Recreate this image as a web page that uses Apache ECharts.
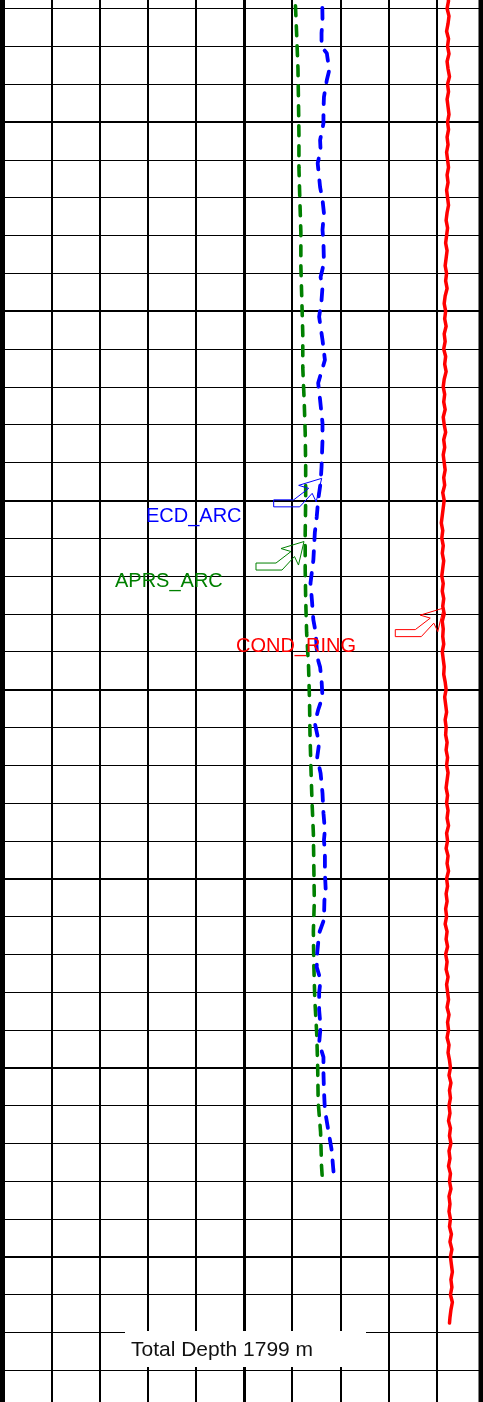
<!DOCTYPE html>
<html><head><meta charset="utf-8">
<script src="https://cdn.jsdelivr.net/npm/echarts@6/dist/echarts.min.js"></script>
<style>html,body{margin:0;padding:0;background:#fff;overflow:hidden;width:483px;height:1402px;position:relative}#c{position:absolute;left:0;top:-68px;width:486px;height:1516px}</style>
</head><body><div id="c"></div>
<script>
// [depth m, track value (0-10 track divisions)]
const aprsArc = [[1414,6.05],[1426,6.09],[1436,6.12],[1444,6.13],[1453,6.14],[1462,6.14],[1471,6.16],[1479,6.18],[1488,6.18],[1497,6.20],[1506,6.22],[1515,6.22],[1524,6.25],[1532,6.27],[1541,6.28],[1550,6.28],[1559,6.27],[1568,6.27],[1576,6.28],[1585,6.30],[1594,6.34],[1603,6.36],[1612,6.37],[1621,6.39],[1629,6.41],[1638,6.44],[1647,6.45],[1656,6.46],[1664,6.44],[1673,6.45],[1682,6.47],[1691,6.51],[1700,6.53],[1709,6.54],[1717,6.59],[1726,6.61],[1730,6.63]];
const ecdArc = [[1414,6.62],[1423,6.63],[1426.5,6.61],[1430.2,6.61],[1431.8,6.72],[1436.3,6.77],[1438.9,6.72],[1443.4,6.66],[1446.8,6.65],[1450.3,6.65],[1454.8,6.58],[1457.4,6.59],[1460.9,6.53],[1467.2,6.58],[1470.6,6.63],[1474.1,6.66],[1478.5,6.63],[1482,6.65],[1487.3,6.66],[1491,6.59],[1493.6,6.63],[1497.1,6.61],[1501.5,6.56],[1507.6,6.63],[1512.9,6.68],[1519,6.54],[1523.5,6.58],[1529.6,6.63],[1534.1,6.63],[1541.2,6.61],[1545.4,6.59],[1549.9,6.54],[1554.4,6.51],[1558.6,6.47],[1565.8,6.44],[1571.9,6.38],[1576.4,6.41],[1581.6,6.44],[1585.1,6.49],[1591.4,6.52],[1594.1,6.58],[1597.5,6.61],[1602,6.63],[1605.4,6.54],[1608.9,6.47],[1614.2,6.56],[1617.9,6.52],[1622.1,6.59],[1627.4,6.63],[1632.7,6.65],[1637.2,6.68],[1639.8,6.66],[1643.2,6.68],[1648.5,6.68],[1653.8,6.70],[1655.7,6.67],[1660.9,6.66],[1664.4,6.56],[1669.7,6.52],[1673.4,6.51],[1676.8,6.59],[1680.2,6.56],[1684.7,6.56],[1689.2,6.59],[1693.5,6.56],[1697.2,6.65],[1701.4,6.65],[1705.9,6.66],[1711.2,6.68],[1716.5,6.75],[1721.7,6.82],[1726.2,6.85],[1728.9,6.87]];
const condRing = [[1416,9.23],[1418,9.25],[1420,9.22],[1422,9.26],[1424,9.24],[1426,9.21],[1428,9.25],[1430,9.23],[1432,9.26],[1434,9.22],[1436,9.24],[1438,9.27],[1440,9.23],[1442,9.25],[1444,9.22],[1446,9.24],[1448,9.26],[1450,9.23],[1452,9.25],[1454,9.22],[1456,9.24],[1458,9.21],[1460,9.23],[1462,9.25],[1464,9.22],[1466,9.24],[1468,9.21],[1470,9.23],[1472,9.25],[1474,9.22],[1476,9.20],[1478,9.23],[1480,9.21],[1482,9.19],[1484,9.22],[1486,9.20],[1488,9.18],[1490,9.21],[1492,9.19],[1494,9.22],[1496,9.18],[1498,9.16],[1500,9.19],[1502,9.17],[1504,9.20],[1506,9.16],[1508,9.18],[1510,9.15],[1512,9.19],[1514,9.17],[1516,9.20],[1518,9.16],[1520,9.14],[1522,9.17],[1524,9.15],[1526,9.18],[1528,9.14],[1530,9.16],[1532,9.19],[1534,9.15],[1536,9.17],[1538,9.14],[1540,9.16],[1542,9.18],[1544,9.15],[1546,9.17],[1548,9.13],[1550,9.16],[1552,9.14],[1554,9.12],[1556,9.10],[1558,9.13],[1560,9.11],[1562,9.14],[1564,9.12],[1566,9.15],[1568,9.13],[1570,9.11],[1572,9.14],[1574,9.12],[1576,9.15],[1578,9.13],[1580,9.16],[1582,9.12],[1584,9.14],[1586,9.13],[1588,9.15],[1590,9.12],[1592,9.14],[1594,9.16],[1596,9.15],[1598,9.18],[1600,9.20],[1602,9.17],[1604,9.19],[1606,9.21],[1608,9.18],[1610,9.20],[1612,9.19],[1614,9.22],[1616,9.20],[1618,9.23],[1620,9.21],[1622,9.24],[1624,9.22],[1626,9.20],[1628,9.23],[1630,9.21],[1632,9.24],[1634,9.22],[1636,9.25],[1638,9.21],[1640,9.23],[1642,9.20],[1644,9.24],[1646,9.22],[1648,9.25],[1650,9.21],[1652,9.23],[1654,9.20],[1656,9.22],[1658,9.19],[1660,9.21],[1662,9.18],[1664,9.22],[1666,9.20],[1668,9.23],[1670,9.19],[1672,9.22],[1674,9.20],[1676,9.24],[1678,9.21],[1680,9.23],[1682,9.25],[1684,9.22],[1686,9.26],[1688,9.23],[1690,9.25],[1692,9.22],[1694,9.26],[1696,9.24],[1698,9.27],[1700,9.29],[1702,9.26],[1704,9.30],[1706,9.27],[1708,9.29],[1710,9.26],[1712,9.28],[1714,9.25],[1716,9.29],[1718,9.27],[1720,9.30],[1722,9.26],[1724,9.28],[1726,9.25],[1728,9.29],[1730,9.27],[1732,9.30],[1734,9.26],[1736,9.28],[1738,9.26],[1740,9.29],[1742,9.27],[1744,9.31],[1746,9.28],[1748,9.32],[1750,9.29],[1752,9.31],[1754,9.33],[1756,9.30],[1758,9.32],[1760,9.29],[1762,9.33],[1764,9.30],[1766,9.28],[1767.5,9.27]];
const curveNames = ['ECD_ARC','APRS_ARC','COND_RING'];
const curveColors = ['#0000ff','#008000','#ff0000'];
// annotation anchor points on curves: [track value, depth]
const labelAnchors = [[6.613,1544.2],[6.245,1560.9],[9.141,1578.5]];
const totalDepthText = 'Total Depth 1799 m';

const OFF = 68; // chart div is shifted up by this many px
const chart = echarts.init(document.getElementById('c'), null, {renderer:'canvas'});
const FONT = '"Liberation Sans", Arial, Helvetica, sans-serif';
function yAx(interval, width){
  return {type:'value', inverse:true, min:1400, max:1800, interval:interval,
    axisLine:{show:false}, axisTick:{show:false}, axisLabel:{show:false},
    splitLine:{show:true, lineStyle:{color:'#000', width:width}}};
}
function xAx(interval, width){
  return {type:'value', min:0, max:10, interval:interval,
    axisLine:{show:false}, axisTick:{show:false}, axisLabel:{show:false},
    splitLine:{show:true, lineStyle:{color:'#000', width:width}}};
}
chart.setOption({
  animation:false,
  backgroundColor:'#fff',
  grid:{left:3.6, right:1.4, top:0.85, bottom:1.95, containLabel:false},
  xAxis:[xAx(1,2), xAx(5,3)],
  yAxis:[yAx(10,1), yAx(50,2)],
  series:[
    {type:'line', name:curveNames[1], data:aprsArc.map(p=>[p[1],p[0]]), symbol:'none', silent:true, z:3,
      lineStyle:{color:curveColors[1], width:3.6, type:[10,10], cap:'round'}},
    {type:'line', name:curveNames[0], data:ecdArc.map(p=>[p[1],p[0]]), symbol:'none', silent:true, z:4,
      lineStyle:{color:curveColors[0], width:3.8, type:[11,11], cap:'round'}},
    {type:'line', name:curveNames[2], data:condRing.map(p=>[p[1],p[0]]), symbol:'none', silent:true, z:5,
      lineStyle:{color:curveColors[2], width:3.5, cap:'round', join:'round'}}
  ]
});

const arrowShape = [[-48,21.5],[-28,21.5],[-13,10],[-23,7],[0,0],[-5.5,23.5],[-9.5,15],[-22,28.5],[-48,28.5]];
const labelOffsets = [[-175.7,37.7],[-189,39.8],[-207.3,38.2]];
const gfx = [];
labelAnchors.forEach((a,i)=>{
  const p = chart.convertToPixel({gridIndex:0}, a);
  gfx.push({type:'polygon', z:100, silent:true,
    shape:{points:arrowShape.map(q=>[p[0]+q[0], p[1]+q[1]])},
    style:{fill:'none', stroke:curveColors[i], lineWidth:1}});
  gfx.push({type:'text', z:101, silent:true,
    style:{text:curveNames[i], x:p[0]+labelOffsets[i][0], y:p[1]+labelOffsets[i][1],
      fill:curveColors[i], font:'20px '+FONT, align:'left', verticalAlign:'middle'}});
});
gfx.push({type:'rect', z:100, silent:true, shape:{x:0,y:OFF,width:4.7,height:1402}, style:{fill:'#000'}});
gfx.push({type:'rect', z:100, silent:true, shape:{x:478.5,y:OFF,width:5,height:1402}, style:{fill:'#000'}});
gfx.push({type:'rect', z:100, silent:true, shape:{x:125,y:OFF+1331,width:241,height:36}, style:{fill:'#fff'}});
gfx.push({type:'text', z:101, silent:true,
  style:{text:totalDepthText, x:131, y:OFF+1350, fill:'#111', font:'21px '+FONT, align:'left', verticalAlign:'middle'}});
chart.setOption({graphic:gfx});
</script></body></html>
